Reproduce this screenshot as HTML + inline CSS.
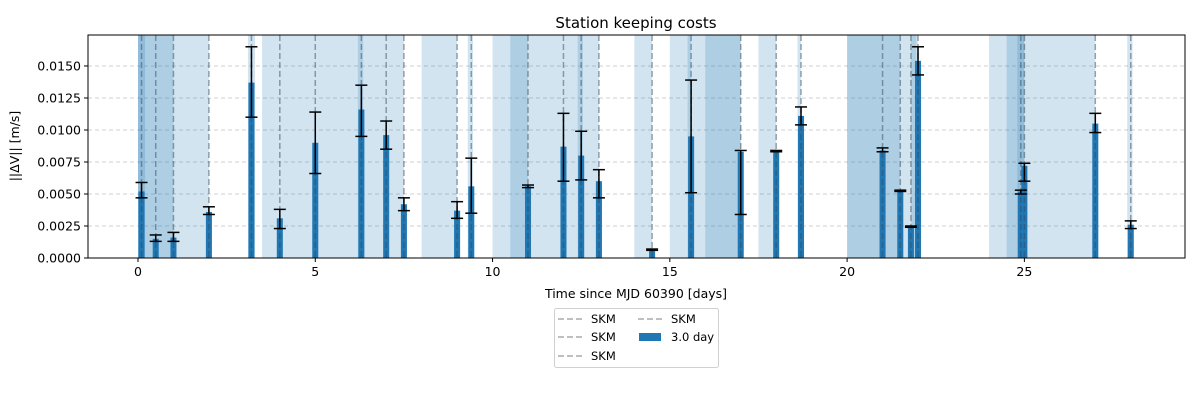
<!DOCTYPE html>
<html><head><meta charset="utf-8"><style>
body{margin:0;background:#fff;width:1200px;height:400px;overflow:hidden;font-family:"DejaVu Sans","Liberation Sans",sans-serif}
</style></head><body>
<svg id="chart" width="1200" height="400" xmlns="http://www.w3.org/2000/svg" font-family="DejaVu Sans, Liberation Sans, sans-serif"></svg>
<script>
const spanStarts=[0,0,0,3.1,3.5,6.2,8.0,9.3,10,10.5,12.4,14,15,15.5,16,17.5,18.6,20,20,21.8,24,24.5,24.8,27.9];
const spanEnds=[2.0,1.0,0.2,3.3,7.5,6.35,9.0,9.45,13,11,12.55,14.5,17,15.6,17,18,18.7,22,21.5,21.95,27,25,25,28.05];
const barDays=[0.1,0.5,1.0,2.0,3.2,4.0,5.0,6.3,7.0,7.5,9.0,9.4,11.0,12.0,12.5,13.0,14.5,15.6,17.0,18.0,18.7,21.0,21.5,21.8,22.0,24.9,25.0,27.0,28.0];
const barValues=[0.0052,0.0015,0.0016,0.0036,0.0137,0.0031,0.0090,0.0116,0.0096,0.0042,0.0037,0.0056,0.0056,0.0087,0.0080,0.0060,0.0007,0.0095,0.0083,0.0084,0.0111,0.0084,0.0053,0.0025,0.0154,0.0052,0.0072,0.0105,0.0026];
const errLow=[0.0047,0.0013,0.0013,0.0034,0.0110,0.0023,0.0066,0.0095,0.0085,0.0037,0.0031,0.0035,0.0055,0.0060,0.0061,0.0047,0.0006,0.0051,0.0034,0.0083,0.0104,0.0083,0.0052,0.0024,0.0143,0.0050,0.0060,0.0098,0.0023];
const errHigh=[0.0059,0.0018,0.0020,0.0040,0.0165,0.0038,0.0114,0.0135,0.0107,0.0047,0.0044,0.0078,0.0057,0.0113,0.0099,0.0069,0.0007,0.0139,0.0084,0.0084,0.0118,0.0086,0.0053,0.0025,0.0165,0.0053,0.0074,0.0113,0.0029];
const xTicks=[0,5,10,15,20,25];
const yTicks=[0,0.0025,0.005,0.0075,0.01,0.0125,0.015];
const yTickLabels=["0.0000","0.0025","0.0050","0.0075","0.0100","0.0125","0.0150"];

const L=88,R=1185,T=35,B=258,xmin=-1.41,xmax=29.53,ymax=0.01742;
const X=d=>L+(d-xmin)/(xmax-xmin)*(R-L);
const Y=v=>B-v/ymax*(B-T);
const svg=document.getElementById('chart');
const NS='http://www.w3.org/2000/svg';
function mk(tag,attrs,parent){const e=document.createElementNS(NS,tag);for(const k in attrs)e.setAttribute(k,attrs[k]);(parent||svg).appendChild(e);return e;}

// grid
yTicks.forEach((v,i)=>{
  const g=mk('line',{x1:L,x2:R,y1:Y(v),y2:Y(v),stroke:'#d0d0d0','stroke-dasharray':'4,3','stroke-width':1});
  
  
});
// spans
spanStarts.forEach((s,i)=>{
  const r=mk('rect',{x:X(s),y:T,width:X(spanEnds[i])-X(s),height:B-T,fill:'#1f77b4','fill-opacity':0.2});
  
  
});
// bars
const bw=0.17*(R-L)/(xmax-xmin);
barDays.forEach((d,i)=>{
  const b=mk('rect',{x:X(d)-bw/2,y:Y(barValues[i]),width:bw,height:B-Y(barValues[i]),fill:'#1f77b4'});
  
  
});
// dashed vlines
barDays.forEach((d,i)=>{
  const l=mk('line',{x1:X(d),x2:X(d),y1:T,y2:B,stroke:'#3a4a5a','stroke-opacity':0.5,'stroke-dasharray':'6,3','stroke-width':1.5});
  
  
});
// error bars
barDays.forEach((d,i)=>{
  const x=X(d),y1=Y(errLow[i]),y2=Y(errHigh[i]);
  const g=mk('g',{stroke:'#000','stroke-width':1.5});
  
  
  mk('line',{x1:x,x2:x,y1:y1,y2:y2},g);
  mk('line',{x1:x-6,x2:x+6,y1:y1,y2:y1},g);
  mk('line',{x1:x-6,x2:x+6,y1:y2,y2:y2},g);
});
// frame
const fr=mk('rect',{x:L,y:T,width:R-L,height:B-T,fill:'none',stroke:'#000','stroke-width':1});


// ticks
xTicks.forEach(v=>{
  mk('line',{x1:X(v),x2:X(v),y1:B,y2:B+4,stroke:'#000'});
  const t=mk('text',{x:X(v),y:B+18,'text-anchor':'middle','font-size':12.5,fill:'#000'});
  t.textContent=v;
  
  
});
yTicks.forEach((v,i)=>{
  mk('line',{x1:L-4,x2:L,y1:Y(v),y2:Y(v),stroke:'#000'});
  const t=mk('text',{x:L-7,y:Y(v)+4.5,'text-anchor':'end','font-size':12.5,fill:'#000'});
  t.textContent=yTickLabels[i];
  
  
});
</script>
<svg style="position:absolute;left:0;top:0" width="1200" height="400" font-family="DejaVu Sans, Liberation Sans, sans-serif">
<text x="636" y="28" text-anchor="middle" font-size="15">Station keeping costs</text>
<text x="636" y="298" text-anchor="middle" font-size="12.5">Time since MJD 60390 [days]</text>
<text x="19" y="146" text-anchor="middle" font-size="12.5" transform="rotate(-90 19 146)">||ΔV|| [m/s]</text>
<g>
<rect x="554.5" y="308.5" width="164" height="59" rx="2" fill="#fff" stroke="#d0d0d0"/>
<g stroke="#aaa" stroke-width="1.5" stroke-dasharray="6,3">
<line x1="558" x2="582" y1="319" y2="319"/><line x1="558" x2="582" y1="337" y2="337"/><line x1="558" x2="582" y1="356" y2="356"/><line x1="638" x2="662" y1="319" y2="319"/>
</g>
<rect x="639" y="333" width="22" height="8" fill="#1f77b4"/>
<g font-size="11.5" fill="#000">
<text x="591" y="323">SKM</text><text x="591" y="341">SKM</text><text x="591" y="360">SKM</text><text x="671" y="323">SKM</text><text x="671" y="341">3.0 day</text>
</g>
</g>
</svg>
</body></html>
